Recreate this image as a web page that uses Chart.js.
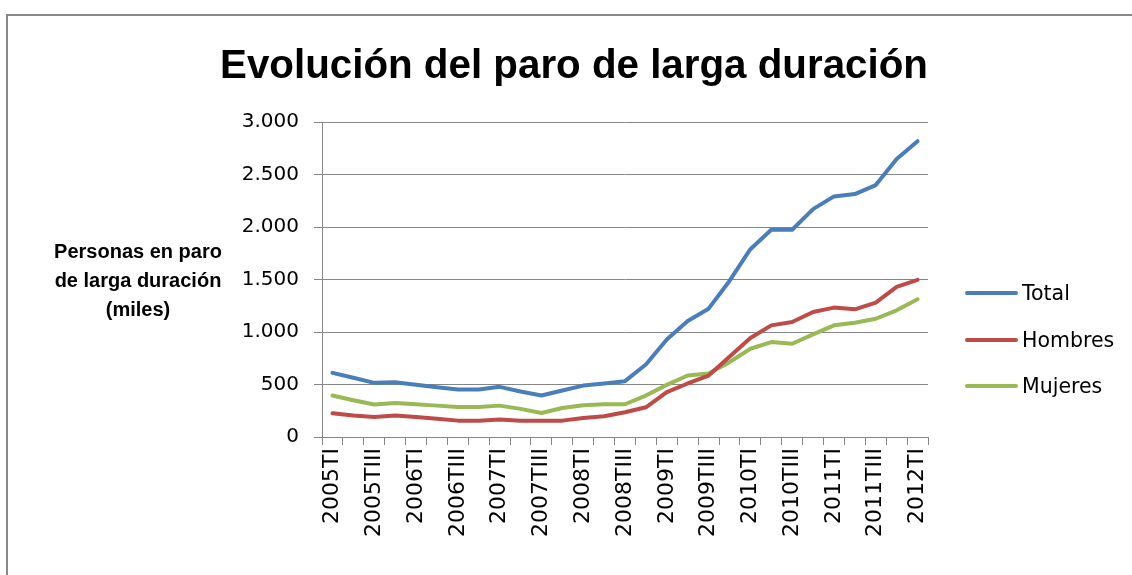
<!DOCTYPE html>
<html>
<head>
<meta charset="utf-8">
<script src="https://cdn.jsdelivr.net/npm/chart.js@4.4.1/dist/chart.umd.min.js"></script>
<style>
  html, body { margin: 0; padding: 0; background: #fff; }
  #wrap { position: relative; width: 1132px; height: 575px; overflow: hidden; }
  #frame { position: absolute; left: 6px; top: 14px; width: 1140px; height: 600px;
           border: 2px solid #888; box-sizing: border-box; }
  canvas { position: absolute; left: 0; top: 0; }
  #ytitle { position: absolute; left: 38px; top: 237px; width: 200px; text-align: center;
            font: bold 20px "Liberation Sans", sans-serif; line-height: 29px; color: #000; }
  .leg { position: absolute; left: 965px; font: 20.5px "DejaVu Sans", sans-serif; color: #000;
         display: flex; align-items: center; height: 24px; }
  .leg span.ln { display: inline-block; width: 53px; height: 4px; border-radius: 2px; margin-right: 4px; }
</style>
</head>
<body>
<div id="wrap">
  <div id="frame"></div>
  <canvas id="chart" width="1132" height="575"></canvas>
  <div id="ytitle">Personas en paro<br>de larga duración<br>(miles)</div>
  <div class="leg" style="top:281px"><span class="ln" style="background:#4a7ebb"></span>Total</div>
  <div class="leg" style="top:328px"><span class="ln" style="background:#be4b48"></span>Hombres</div>
  <div class="leg" style="top:374px"><span class="ln" style="background:#98b954"></span>Mujeres</div>
</div>
<script>
const quarters = [
  "2005TI", "2005TII", "2005TIII", "2005TIV",
  "2006TI", "2006TII", "2006TIII", "2006TIV",
  "2007TI", "2007TII", "2007TIII", "2007TIV",
  "2008TI", "2008TII", "2008TIII", "2008TIV",
  "2009TI", "2009TII", "2009TIII", "2009TIV",
  "2010TI", "2010TII", "2010TIII", "2010TIV",
  "2011TI", "2011TII", "2011TIII", "2011TIV",
  "2012TI"
];
const total = [611, 564, 516, 522, 497, 475, 452, 452, 478, 433, 395, 443, 490, 510, 532,
  691, 930, 1105, 1223, 1487, 1790, 1975, 1975, 2172, 2293, 2315, 2401, 2650, 2819];
const hombres = [226, 204, 191, 204, 191, 175, 156, 156, 166, 156, 156, 156, 182, 197, 236,
  283, 427, 510, 586, 764, 943, 1064, 1096, 1191, 1233, 1217, 1280, 1430, 1497];
const mujeres = [395, 350, 309, 325, 312, 299, 287, 287, 299, 268, 229, 277, 303, 312, 312,
  395, 497, 586, 605, 713, 841, 905, 889, 978, 1064, 1089, 1127, 1207, 1312];
const yTicks = [0, 500, 1000, 1500, 2000, 2500, 3000];

const axisGray = "#868686";

function fmt(v) {
  return String(v).replace(/\B(?=(\d{3})+(?!\d))/g, ".");
}

function line(label, data, color) {
  return {
    label: label,
    data: data,
    borderColor: color,
    backgroundColor: color,
    borderWidth: 4,
    pointRadius: 0,
    tension: 0,
    borderCapStyle: "round",
    borderJoinStyle: "round"
  };
}

new Chart(document.getElementById("chart"), {
  type: "line",
  data: {
    labels: quarters,
    datasets: [
      line("Total", total, "#4a7ebb"),
      line("Hombres", hombres, "#be4b48"),
      line("Mujeres", mujeres, "#98b954")
    ]
  },
  options: {
    responsive: false,
    animation: false,
    devicePixelRatio: 1,
    layout: { padding: { left: 220, right: 204, top: 0, bottom: 0 } },
    plugins: {
      legend: { display: false },
      tooltip: { enabled: false },
      title: {
        display: true,
        text: "Evolución del paro de larga duración",
        color: "#000",
        font: { family: "'Liberation Sans', sans-serif", size: 41, weight: "bold" },
        padding: { top: 42, bottom: 31 }
      }
    },
    scales: {
      x: {
        offset: true,
        grid: { offset: true, drawOnChartArea: false, drawTicks: true, tickLength: 8, color: axisGray },
        border: { color: axisGray, width: 1 },
        afterFit: (s) => { s.height = 138; },
        ticks: {
          autoSkip: false,
          minRotation: 90,
          maxRotation: 90,
          padding: 3,
          color: "#000",
          font: { family: "'DejaVu Sans', sans-serif", size: 22 },
          callback: function (v, i) { return i % 2 === 0 ? this.getLabelForValue(v) : ""; }
        }
      },
      y: {
        min: 0,
        max: 3000,
        afterFit: (s) => { s.width = 102; },
        afterBuildTicks: (s) => { s.ticks = yTicks.map(v => ({ value: v })); },
        grid: { color: axisGray, lineWidth: 1, tickLength: 8 },
        border: { color: axisGray, width: 1 },
        ticks: {
          padding: 15,
          color: "#000",
          font: { family: "'DejaVu Sans', sans-serif", size: 20 },
          callback: (v) => fmt(v)
        }
      }
    }
  }
});
</script>
</body>
</html>
